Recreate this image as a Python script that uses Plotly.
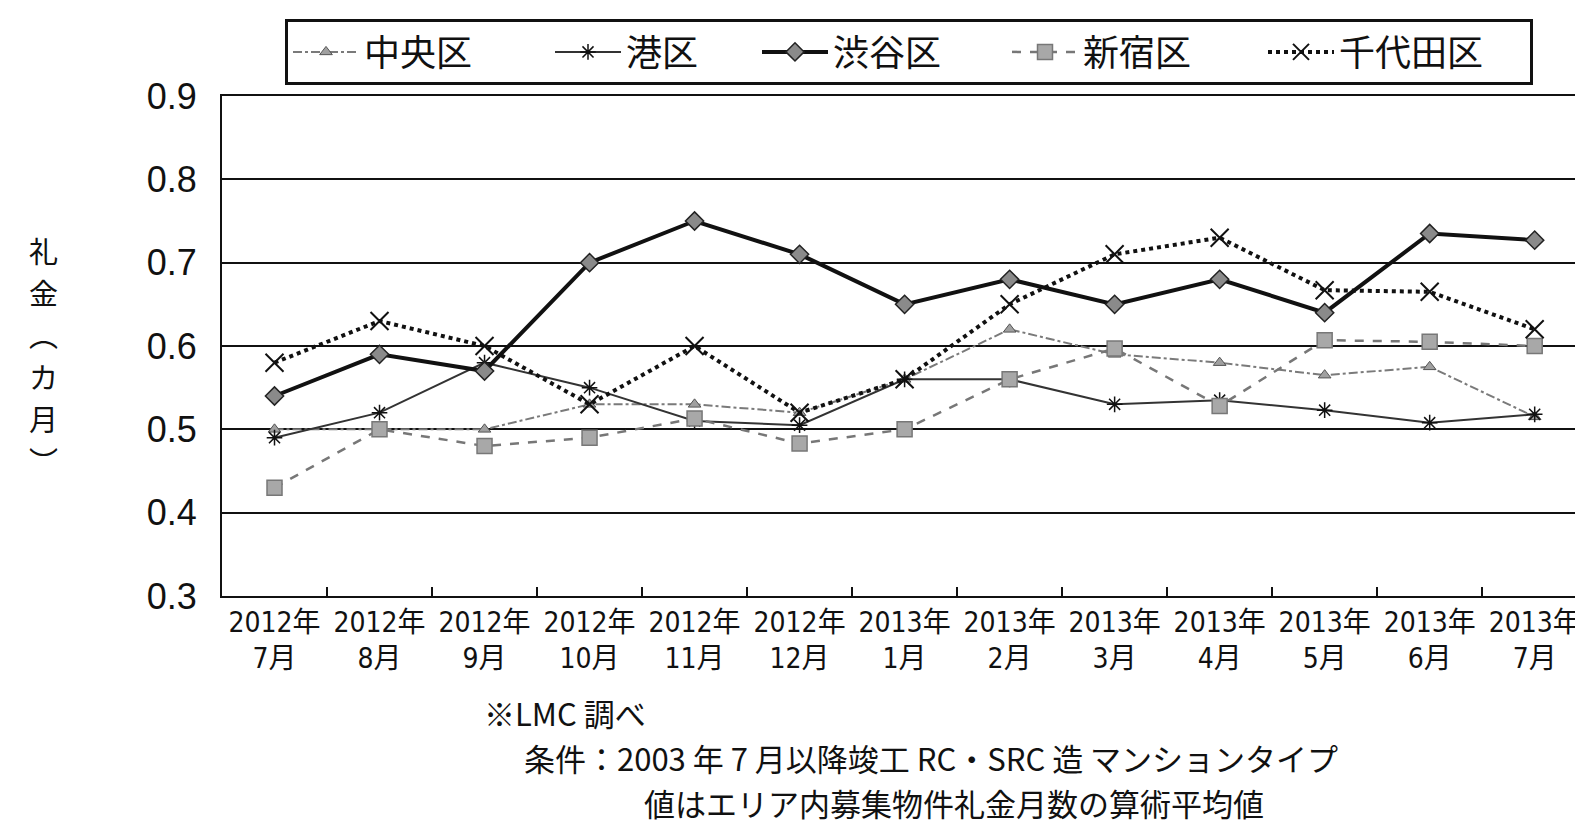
import plotly.graph_objects as go

# ---- data ----
years = ["2012年"] * 6 + ["2013年"] * 7
months = ["7月", "8月", "9月", "10月", "11月", "12月", "1月", "2月", "3月", "4月", "5月", "6月", "7月"]
categories = [f"{y}<br>{m}" for y, m in zip(years, months)]

chuo = [0.50, 0.50, 0.50, 0.53, 0.53, 0.52, 0.56, 0.62, 0.59, 0.58, 0.565, 0.575, 0.515]
minato = [0.49, 0.52, 0.58, 0.55, 0.51, 0.505, 0.56, 0.56, 0.53, 0.535, 0.523, 0.508, 0.518]
shibuya = [0.54, 0.59, 0.57, 0.70, 0.75, 0.71, 0.65, 0.68, 0.65, 0.68, 0.64, 0.735, 0.727]
shinjuku = [0.43, 0.50, 0.48, 0.49, 0.513, 0.483, 0.50, 0.56, 0.597, 0.528, 0.607, 0.605, 0.60]
chiyoda = [0.58, 0.63, 0.60, 0.53, 0.60, 0.52, 0.56, 0.65, 0.71, 0.73, 0.667, 0.665, 0.62]

series_names = ["中央区", "港区", "渋谷区", "新宿区", "千代田区"]
y_ticks = [0.3, 0.4, 0.5, 0.6, 0.7, 0.8, 0.9]
y_title_chars = ["礼", "金", "︵", "カ", "月", "︶"]
notes = ["※LMC 調べ", "条件：2003 年 7 月以降竣工 RC・SRC 造 マンションタイプ", "値はエリア内募集物件礼金月数の算術平均値"]

# ---- figure geometry (page body has an 8px default margin) ----
OFF = 8
W, H = 1583 - OFF, 830 - OFF
L, R, T, B = 222 - OFF, 0, 96 - OFF, 234
PW, PH = W - L - R, H - T - B

def px_x(px):  # screen x -> paper x
    return (px - OFF - L) / PW

def px_y(py):  # screen y -> paper y
    return (H - B - (py - OFF)) / PH

fig = go.Figure()

styles = [
    dict(vals=chuo, line=dict(color="#7a7a7a", width=2, dash="dashdot"),
         marker=dict(symbol="triangle-up", size=11, color="#a0a0a0", line=dict(color="#555", width=1)), lw=181),
    dict(vals=minato, line=dict(color="#333333", width=2, dash="solid"),
         marker=dict(symbol="asterisk", size=13, color="#111", line=dict(color="#111", width=1.5)), lw=126),
    dict(vals=shibuya, line=dict(color="#111111", width=4, dash="solid"),
         marker=dict(symbol="diamond", size=14, color="#8a8a8a", line=dict(color="#222", width=1.5)), lw=169),
    dict(vals=shinjuku, line=dict(color="#777777", width=2.5, dash="dash"),
         marker=dict(symbol="square", size=15, color="#a8a8a8", line=dict(color="#777", width=1.5)), lw=175),
    dict(vals=chiyoda, line=dict(color="#111111", width=4, dash="dot"),
         marker=dict(symbol="x-thin", size=18, color="#111", line=dict(color="#111", width=2)), lw=186),
]

for name, st in zip(series_names, styles):
    fig.add_trace(go.Scatter(
        x=categories, y=st["vals"], name=name, mode="lines+markers",
        line=st["line"], marker=st["marker"], legendwidth=st["lw"],
    ))

fig.update_layout(
    width=W, height=H,
    margin=dict(l=L, r=R, t=T, b=B, pad=0, autoexpand=False),
    paper_bgcolor="white", plot_bgcolor="white",
    font=dict(family="Liberation Sans, Noto Sans CJK JP", color="#111", size=30),
    showlegend=True,
    legend=dict(
        orientation="h", x=px_x(285), xanchor="left", y=px_y(19), yanchor="top",
        font=dict(family="Noto Sans CJK JP", size=36, color="#111"),
        bordercolor="#111", borderwidth=3, bgcolor="white",
        itemwidth=66, traceorder="normal",
    ),
    xaxis=dict(
        type="category", categoryorder="array", categoryarray=categories,
        range=[-0.5, 12.46], showgrid=False, zeroline=False,
        showline=True, linecolor="#111", linewidth=2, mirror=True,
        ticks="inside", tickson="boundaries", ticklen=9, tickwidth=1.5, tickcolor="#111",
        tickfont=dict(family="DejaVu Sans Condensed, Liberation Sans, Noto Sans CJK JP", size=28, color="#111"),
        tickangle=0, fixedrange=True,
    ),
    yaxis=dict(
        range=[0.3, 0.9], tickvals=y_ticks, ticktext=[f"{v:.1f}" for v in y_ticks],
        showgrid=True, gridcolor="#111", gridwidth=2, zeroline=False,
        showline=True, linecolor="#111", linewidth=2,
        ticks="", ticklabelstandoff=16,
        tickfont=dict(family="Liberation Sans", size=36, color="#111"),
        fixedrange=True,
    ),
)

# vertical y-axis title: upright characters stacked, one per row
n = len(y_title_chars)
for i, ch in enumerate(y_title_chars):
    fig.add_annotation(
        text=ch, xref="paper", yref="paper", x=px_x(43), y=px_y(355 + (i - (n - 1) / 2) * 42),
        xanchor="center", yanchor="middle", showarrow=False,
        font=dict(family="Noto Sans CJK JP", size=29, color="#111"),
    )

# footnotes
note_pos = [(482, 712), (522, 757), (642, 802)]
for txt, (nx, ny) in zip(notes, note_pos):
    fig.add_annotation(
        text=txt, xref="paper", yref="paper", x=px_x(nx), y=px_y(ny),
        xanchor="left", yanchor="middle", showarrow=False,
        font=dict(family="Noto Sans CJK JP", size=31, color="#111"),
    )

fig.write_html("out.html")
